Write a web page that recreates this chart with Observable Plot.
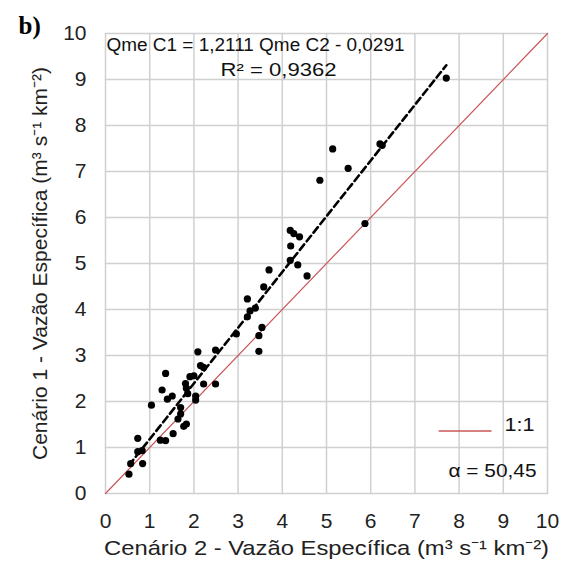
<!DOCTYPE html>
<html>
<head>
<meta charset="utf-8">
<script src="https://cdn.jsdelivr.net/npm/d3@7"></script>
<script src="https://cdn.jsdelivr.net/npm/@observablehq/plot@0.6"></script>
<style>
  html, body { margin: 0; padding: 0; background: #fff; }
  #chart svg { display: block; }
</style>
</head>
<body>
<div id="chart"></div>
<script>
// Cenário 2 (x) vs Cenário 1 (y) specific discharge
const qmeC2 = [0.53,0.57,0.84,0.73,0.83,0.73,1.04,1.24,1.36,1.53,1.64,1.70,1.70,1.77,1.83,
  1.28,1.36,1.40,1.51,1.81,1.83,1.86,1.91,2.00,2.09,2.04,2.04,2.15,2.22,2.22,2.49,2.49,
  2.96,3.21,3.21,3.27,3.39,3.58,3.70,3.54,3.47,3.47,
  4.18,4.26,4.39,4.19,4.18,4.35,4.56,4.85,5.14,5.49,6.21,6.26,5.87,7.71];
const qmeC1 = [0.42,0.65,0.65,0.91,0.93,1.20,1.92,1.16,1.15,1.30,1.62,1.73,1.87,1.46,1.51,
  2.25,2.61,2.05,2.12,2.39,2.29,2.17,2.54,2.56,3.08,2.12,2.03,2.78,2.74,2.38,2.38,3.12,
  3.47,4.23,3.84,3.97,4.03,4.49,4.86,3.61,3.43,3.09,
  5.72,5.65,5.58,5.38,5.07,4.97,4.73,6.81,7.49,7.07,7.60,7.57,5.87,9.03];
const slope = 1.2111, intercept = -0.0291;
const ticks = [0,1,2,3,4,5,6,7,8,9,10];
const equationText = "Qme C1 = 1,2111 Qme C2 - 0,0291";
const r2Text = "R² = 0,9362";
const legendLabel = "1:1";
const alphaText = "α = 50,45";
const xTitle = "Cenário 2 - Vazão Específica (m³ s⁻¹ km⁻²)";
const yTitle = "Cenário 1 - Vazão Específica (m³ s⁻¹ km⁻²)";
const panelLabel = "b)";

const points = qmeC2.map((x, i) => ({x, y: qmeC1[i]}));
const xMin = d3.min(qmeC2), xMax = d3.max(qmeC2);
const trend = [{x: xMin, y: slope * xMin + intercept}, {x: xMax, y: slope * xMax + intercept}];
const lo = ticks[0], hi = ticks[ticks.length - 1];
const identity = [{x: lo, y: lo}, {x: hi, y: hi}];
const legendSeg = [{x: 7.55, y: 1.36, k: "leg"}, {x: 8.72, y: 1.36, k: "leg"}];
// grid segments built from the tick values (vertical and horizontal)
const gridSegs = ticks.flatMap(t => [
  {x: t, y: lo, k: "v" + t}, {x: t, y: hi, k: "v" + t},
  {x: lo, y: t, k: "h" + t}, {x: hi, y: t, k: "h" + t}
]);

const font = "Liberation Sans, Arial, sans-serif";
const red = "#c9575a";
const gridColor = "#d0d0d0";

const chart = Plot.plot({
  width: 568, height: 567,
  marginLeft: 105, marginRight: 21, marginTop: 33, marginBottom: 74,
  style: {fontFamily: font, background: "#fff"},
  x: {domain: [lo, hi]},
  y: {domain: [lo, hi]},
  marks: [
    Plot.line(gridSegs, {x: "x", y: "y", z: "k", stroke: gridColor, strokeWidth: 1.5}),
    Plot.axisX({ticks, tickSize: 0, tickPadding: 20, fontSize: 21, label: null, fill: "#222"}),
    Plot.axisY({ticks, tickSize: 0, tickPadding: 19, fontSize: 21, label: null, fill: "#222"}),
    Plot.line(identity, {x: "x", y: "y", stroke: red, strokeWidth: 1.2}),
    Plot.line(trend, {x: "x", y: "y", stroke: "#000", strokeWidth: 2.6, strokeDasharray: "7,4"}),
    Plot.dot(points, {x: "x", y: "y", r: 3.6, fill: "#000"}),
    Plot.text([equationText], {frameAnchor: "top-left", dx: 1, dy: 5, textAnchor: "start", fontSize: 18, fill: "#111"}),
    Plot.text([r2Text], {frameAnchor: "top-left", dx: 115, dy: 30, textAnchor: "start", fontSize: 18, fill: "#111"}),
    Plot.line(legendSeg, {x: "x", y: "y", z: "k", stroke: red, strokeWidth: 1.5}),
    Plot.text([legendLabel], {frameAnchor: "bottom-right", dx: -13, dy: -63, textAnchor: "end", fontSize: 19, fill: "#111"}),
    Plot.text([alphaText], {frameAnchor: "bottom-right", dx: -11, dy: -17, textAnchor: "end", fontSize: 19, fill: "#111"}),
    Plot.text([xTitle], {frameAnchor: "bottom", dy: 61, fontSize: 21, fill: "#222"}),
    Plot.text([yTitle], {frameAnchor: "left", dx: -65, rotate: -90, textAnchor: "middle", fontSize: 21, fill: "#222"}),
    Plot.text([panelLabel], {frameAnchor: "top-left", dx: -87, dy: -17, textAnchor: "start", fontSize: 25, fontWeight: "bold", fontFamily: "Liberation Serif, DejaVu Serif, serif", fill: "#000"})
  ]
});

// stretch texts horizontally to match the reference's aspect
const lengths = new Map([[xTitle, 445], [yTitle, 393], [equationText, 298], [r2Text, 116], [alphaText, 88], [legendLabel, 30]]);
d3.select(chart).selectAll("text").each(function() {
  const t = this.textContent;
  if (lengths.has(t)) {
    this.setAttribute("textLength", lengths.get(t));
    this.setAttribute("lengthAdjust", "spacingAndGlyphs");
  }
});
document.getElementById("chart").appendChild(chart);
</script>
</body>
</html>
